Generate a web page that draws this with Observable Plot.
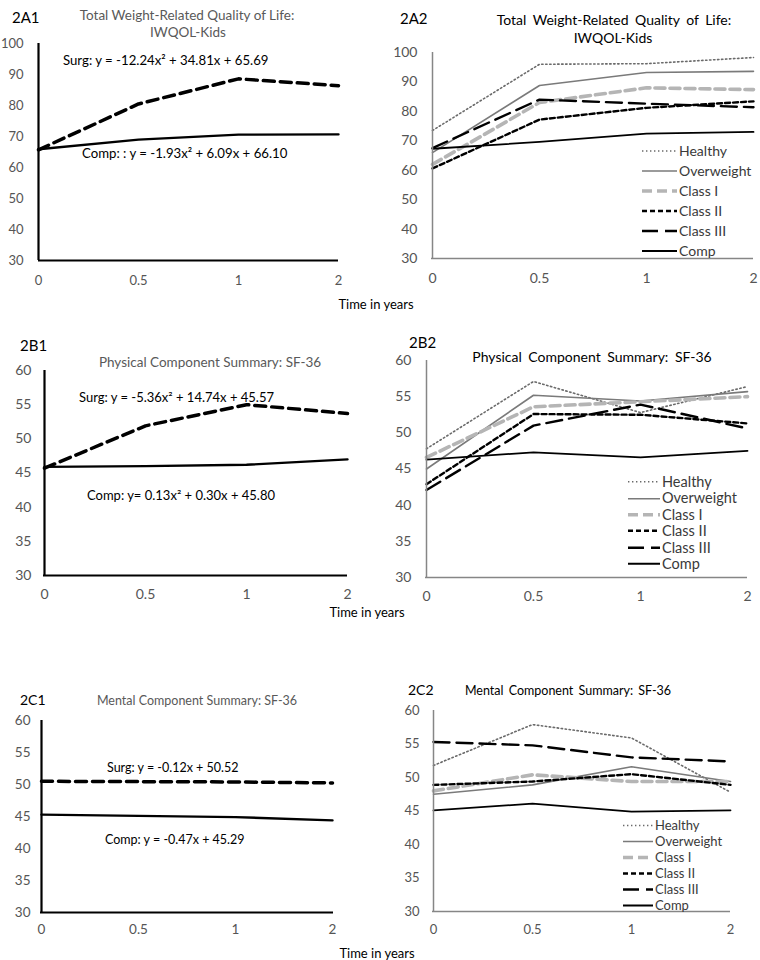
<!DOCTYPE html>
<html><head><meta charset="utf-8">
<script src="https://cdn.jsdelivr.net/npm/d3@7"></script>
<script src="https://cdn.jsdelivr.net/npm/@observablehq/plot@0.6"></script>
<style>
body{margin:0;background:#fff;}
#root{position:relative;width:760px;height:960px;font-family:Lato,"Open Sans",sans-serif;overflow:hidden;}
.t{position:absolute;white-space:nowrap;line-height:1;}
</style></head><body><div id="root"></div>
<script>
// ---------- data ----------
const times = ["0","0.5","1","2"];
const groups = ["Healthy","Overweight","Class I","Class II","Class III","Comp"];
const yTicksA = [30,40,50,60,70,80,90,100];
const yTicksBC = [30,35,40,45,50,55,60];

// 2A1 IWQOL-Kids, surgery vs comparison
const a1Surg = [65.7, 80.5, 88.6, 86.4];
const a1Comp = [65.9, 69.0, 70.6, 70.7];
// 2A2 IWQOL-Kids by weight class
const a2Healthy = [73.5, 96.0, 96.2, 98.3];
const a2Overweight = [66.0, 88.8, 93.2, 93.6];
const a2ClassI = [62.0, 83.0, 88.0, 87.4];
const a2ClassII = [60.6, 77.2, 81.2, 83.4];
const a2ClassIII = [67.5, 84.0, 82.6, 81.4];
const a2Comp = [67.3, 69.6, 72.4, 73.0];
// 2B1 SF-36 physical
const b1Surg = [45.7, 51.9, 55.0, 53.7];
const b1Comp = [45.9, 46.0, 46.2, 47.0];
// 2B2
const b2Healthy = [47.8, 57.1, 52.8, 56.4];
const b2Overweight = [45.0, 55.2, 54.4, 55.7];
const b2ClassI = [46.6, 53.6, 54.3, 55.0];
const b2ClassII = [42.9, 52.6, 52.5, 51.3];
const b2ClassIII = [42.1, 51.0, 53.9, 50.6];
const b2Comp = [46.3, 47.3, 46.6, 47.5];
// 2C1 SF-36 mental
const c1Surg = [50.5, 50.45, 50.4, 50.25];
const c1Comp = [45.3, 45.1, 44.9, 44.4];
// 2C2
const c2Healthy = [51.8, 57.9, 55.9, 47.8];
const c2Overweight = [47.5, 48.9, 51.6, 49.4];
const c2ClassI = [48.0, 50.4, 49.4, 49.4];
const c2ClassII = [48.9, 49.4, 50.5, 48.9];
const c2ClassIII = [55.3, 54.8, 53.0, 52.4];
const c2Comp = [45.1, 46.1, 44.9, 45.1];

// ---------- styles ----------
const styles = {
  "Surg": {stroke:"#000", strokeWidth:3.5, strokeDasharray:"11,6"},
  "CompL": {stroke:"#000", strokeWidth:2.4},
  "Healthy": {stroke:"#6a6a6a", strokeWidth:1.6, strokeDasharray:"1.4,2.6"},
  "Overweight": {stroke:"#7a7a7a", strokeWidth:1.6},
  "Class I": {stroke:"#b5b5b5", strokeWidth:3.6, strokeDasharray:"10,5"},
  "Class II": {stroke:"#000", strokeWidth:2.4, strokeDasharray:"5,3"},
  "Class III": {stroke:"#000", strokeWidth:2.4, strokeDasharray:"16,7"},
  "Comp": {stroke:"#000", strokeWidth:1.8}
};

const root = document.getElementById("root");

function rows(values){ return times.map((t,i)=>({t, v: values[i]})); }

function panel(cfg){
  const [bl,bt,bw,bh] = cfg.box;
  const [x0,x1,yT,yB] = cfg.frame;
  const marks = [
    Plot.axisY({ticks: cfg.ticks, tickSize:0, tickPadding: cfg.padY, label:null}),
    Plot.axisX({tickSize:0, tickPadding: cfg.padX, label:null}),
    ...cfg.series.map(s => Plot.line(rows(s.values), {x:"t", y:"v", ...styles[s.style]})),
    Plot.ruleY([cfg.y[0]], {stroke: cfg.axisColor, strokeWidth: cfg.axisWidth}),
    Plot.ruleX([times[0]], {stroke: cfg.axisColor, strokeWidth: cfg.axisWidth})
  ];
  const svg = Plot.plot({
    width: bw, height: bh,
    marginLeft: x0 - bl, marginRight: bl + bw - x1,
    marginTop: yT - bt, marginBottom: bt + bh - yB,
    x: {type:"point", domain: times, padding:0},
    y: {domain: cfg.y},
    style: {fontFamily:"Lato, 'Open Sans', sans-serif", fontSize: cfg.font + "px", color:"#555", background:"transparent", overflow:"visible"},
    marks
  });
  svg.style.position = "absolute";
  svg.style.left = bl + "px";
  svg.style.top = bt + "px";
  root.appendChild(svg);
}

function text(str, x, y, opt = {}){
  const d = document.createElement("div");
  d.className = "t";
  d.textContent = str;
  d.style.left = x + "px";
  d.style.top = y + "px";
  d.style.fontSize = (opt.size || 13) + "px";
  d.style.color = opt.color || "#000";
  if (opt.ws) d.style.wordSpacing = opt.ws + "px";
  d.style.transform = opt.center ? "translate(-50%,-50%)" : "translate(0,-50%)";
  root.appendChild(d);
}

function legend(x, y, step, swW, size){
  groups.forEach((g, i) => {
    const s = styles[g];
    const row = document.createElement("div");
    row.className = "t";
    row.style.left = x + "px";
    row.style.top = (y + i*step) + "px";
    row.style.transform = "translate(0,-50%)";
    row.style.display = "flex";
    row.style.alignItems = "center";
    row.style.fontSize = size + "px";
    row.style.color = "#3a3a3a";
    const ns = "http://www.w3.org/2000/svg";
    const sv = document.createElementNS(ns, "svg");
    sv.setAttribute("width", swW); sv.setAttribute("height", 8);
    const ln = document.createElementNS(ns, "line");
    ln.setAttribute("x1", 0); ln.setAttribute("x2", swW);
    ln.setAttribute("y1", 4); ln.setAttribute("y2", 4);
    ln.setAttribute("stroke", s.stroke);
    ln.setAttribute("stroke-width", s.strokeWidth);
    if (s.strokeDasharray) ln.setAttribute("stroke-dasharray", s.strokeDasharray);
    sv.appendChild(ln);
    row.appendChild(sv);
    const sp = document.createElement("span");
    sp.textContent = g;
    sp.style.marginLeft = "2px";
    row.appendChild(sp);
    root.appendChild(row);
  });
}

const left = {axisColor:"#000", axisWidth:2.2};
const right = {axisColor:"#868686", axisWidth:1.5};
const wc = (a,b,c,d,e,f) => [
  {values:a, style:"Healthy"}, {values:b, style:"Overweight"}, {values:c, style:"Class I"},
  {values:d, style:"Class II"}, {values:e, style:"Class III"}, {values:f, style:"Comp"}];

panel({box:[0,0,380,300], frame:[38,338,43,260], y:[30,100], ticks:yTicksA, font:13, padX:15, padY:15, ...left,
  series:[{values:a1Surg, style:"Surg"},{values:a1Comp, style:"CompL"}]});
panel({box:[380,0,380,300], frame:[431,753,52,258], y:[30,100], ticks:yTicksA, font:14, padX:15, padY:14, ...right,
  series: wc(a2Healthy,a2Overweight,a2ClassI,a2ClassII,a2ClassIII,a2Comp)});
panel({box:[0,300,380,320], frame:[43,347,370,575], y:[30,60], ticks:yTicksBC, font:14, padX:14, padY:12, ...left,
  series:[{values:b1Surg, style:"Surg"},{values:b1Comp, style:"CompL"}]});
panel({box:[380,300,380,320], frame:[425,747,360,577], y:[30,60], ticks:yTicksBC, font:14, padX:14, padY:14, ...right,
  series: wc(b2Healthy,b2Overweight,b2ClassI,b2ClassII,b2ClassIII,b2Comp)});
panel({box:[0,620,380,340], frame:[40,333,720,912], y:[30,60], ticks:yTicksBC, font:13.5, padX:12, padY:10, ...left,
  series:[{values:c1Surg, style:"Surg"},{values:c1Comp, style:"CompL"}]});
panel({box:[380,620,380,340], frame:[432,730,710,911], y:[30,60], ticks:yTicksBC, font:13, padX:13, padY:13, ...right,
  series: wc(c2Healthy,c2Overweight,c2ClassI,c2ClassII,c2ClassIII,c2Comp)});

// panel labels
text("2A1", 12, 17, {size:15});
text("2A2", 400, 18, {size:15});
text("2B1", 20, 345, {size:15});
text("2B2", 409, 342, {size:15});
text("2C1", 20, 700, {size:14});
text("2C2", 408, 690, {size:14});

// titles
text("Total Weight-Related Quality of Life:", 187, 16, {size:13.5, color:"#595959", center:true});
text("IWQOL-Kids", 188, 33, {size:13.5, color:"#595959", center:true});
text("Total Weight-Related Quality of Life:", 614, 20, {size:14, center:true, ws:3});
text("IWQOL-Kids", 613, 38, {size:14, center:true});
text("Physical Component Summary: SF-36", 210, 363, {size:13.5, color:"#595959", center:true});
text("Physical Component Summary: SF-36", 592, 357, {size:14, center:true, ws:3});
text("Mental Component Summary: SF-36", 197, 701, {size:12.5, color:"#595959", center:true});
text("Mental Component Summary: SF-36", 568, 691, {size:12.5, center:true, ws:2});

// equations
text("Surg: y = -12.24x² + 34.81x + 65.69", 63, 61, {size:13.2});
text("Comp: : y = -1.93x² + 6.09x + 66.10", 82, 154, {size:13.2});
text("Surg: y = -5.36x² + 14.74x + 45.57", 79, 397, {size:13});
text("Comp: y= 0.13x² + 0.30x + 45.80", 87, 495, {size:13});
text("Surg: y = -0.12x + 50.52", 107, 768, {size:12.5});
text("Comp: y = -0.47x + 45.29", 105, 840, {size:12.5});

// axis titles
text("Time in years", 376, 304, {size:13, center:true});
text("Time in years", 367, 612, {size:13, center:true});
text("Time in years", 377, 953, {size:13, center:true});

// legends
legend(642, 151, 20, 35, 14);
legend(628, 482, 16.4, 32, 14.5);
legend(623, 825, 16, 30, 13);
</script></body></html>
